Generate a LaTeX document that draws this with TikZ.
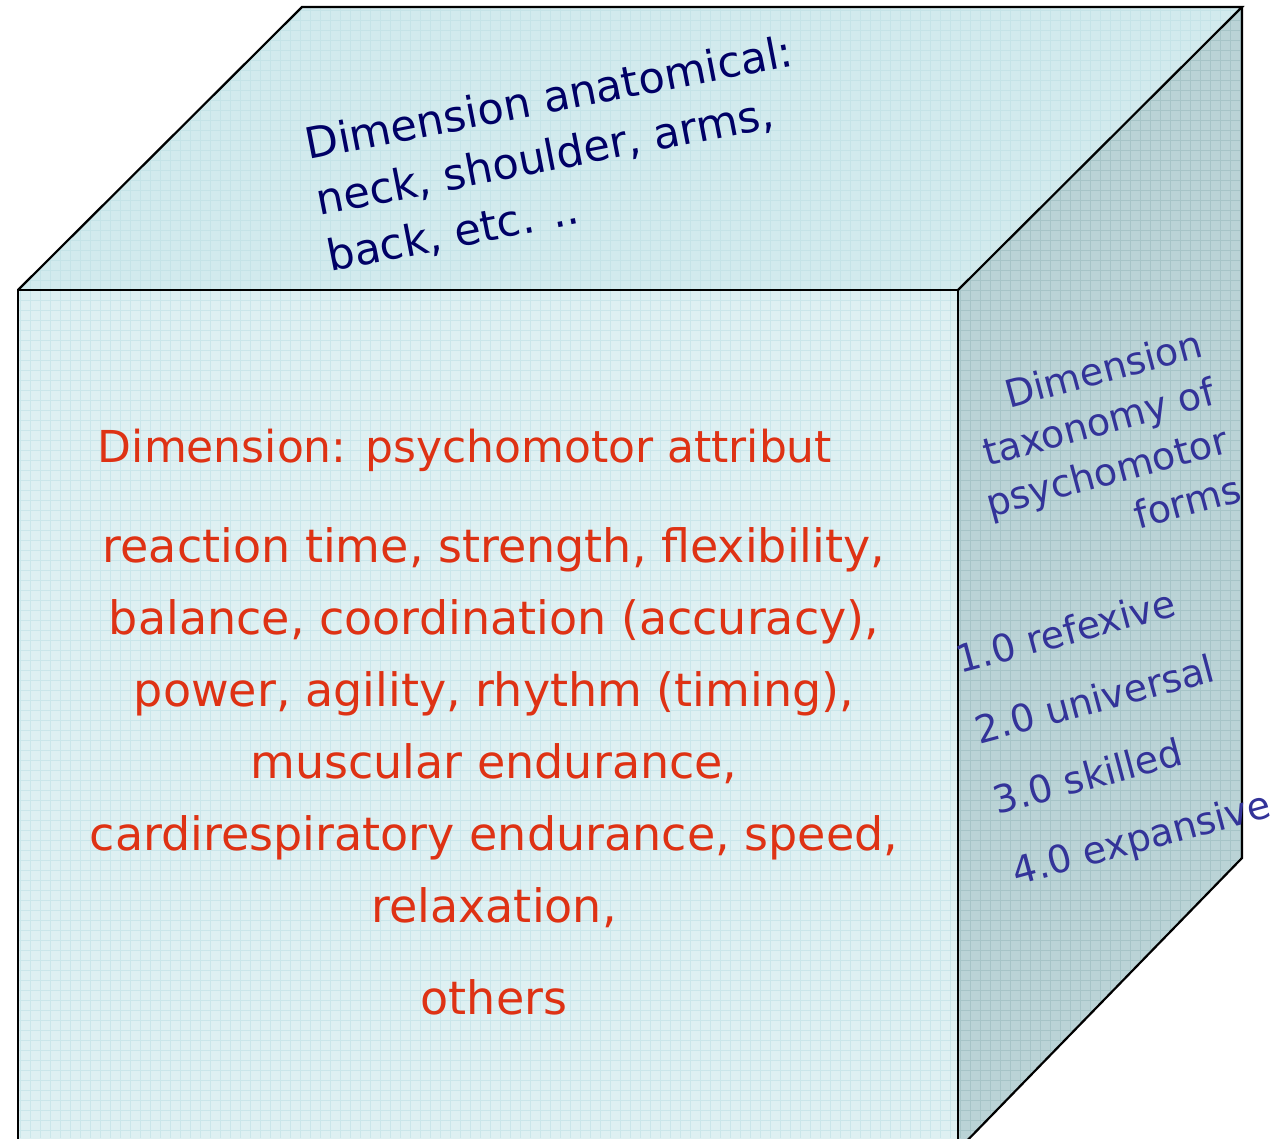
\documentclass[tikz,border=0pt]{standalone}
\usepackage{fontspec}
\setmainfont{DejaVu Sans}
\definecolor{frontfill}{RGB}{222,240,242}
\definecolor{frontgrid}{RGB}{202,230,234}
\definecolor{topfill}{RGB}{210,234,237}
\definecolor{topgrid}{RGB}{197,227,231}
\definecolor{sidefill}{RGB}{186,211,214}
\definecolor{sidegrid}{RGB}{166,196,199}
\definecolor{attrred}{RGB}{222,50,20}
\definecolor{anatblue}{RGB}{0,0,102}
\definecolor{taxblue}{RGB}{51,51,153}
\begin{document}
\begin{tikzpicture}[x=1pt,y=-1pt,
    edge/.style={draw=black, line width=2.2pt, line join=miter},
    gridline/.style={line width=0.7pt, step=10pt},
    bigtext/.style={font=\fontsize{46}{72}\selectfont, inner sep=0pt}]
\useasboundingbox (0,0) rectangle (1277,1138);
\clip (0,0) rectangle (1277,1138);
    % Cube corners
    \coordinate (f1) at (18,290);
    \coordinate (f2) at (958,290);
    \coordinate (f3) at (958,1150);
    \coordinate (f4) at (18,1150);
    \coordinate (b1) at (302,7);
    \coordinate (b2) at (1242,7);
    \coordinate (b3) at (1242,858);

    % Top face
    \fill[topfill] (f1) -- (b1) -- (b2) -- (f2) -- cycle;
    \begin{scope}
        \clip (f1) -- (b1) -- (b2) -- (f2) -- cycle;
        \draw[gridline, topgrid] (0,0) grid (1277,1138);
    \end{scope}
    % Front face
    \fill[frontfill] (f1) -- (f2) -- (f3) -- (f4) -- cycle;
    \begin{scope}
        \clip (f1) -- (f2) -- (f3) -- (f4) -- cycle;
        \draw[gridline, frontgrid] (0,0) grid (1277,1138);
    \end{scope}
    % Side face
    \fill[sidefill] (f2) -- (b2) -- (b3) -- (f3) -- cycle;
    \begin{scope}
        \clip (f2) -- (b2) -- (b3) -- (f3) -- cycle;
        \draw[gridline, sidegrid] (0,0) grid (1277,1138);
    \end{scope}

    % Edges
    \draw[edge] (f4) -- (f1) -- (f2) -- (f3);
    \draw[edge] (f1) -- (b1) -- (b2) -- (f2);
    \draw[edge] (b2) -- (b3) -- (f3);

    % Top face text
    \node[bigtext, anatblue, rotate=11, align=left,
          font=\fontsize{43}{57}\selectfont] (anat) at (560,155)
        {Dimension anatomical:\\neck, shoulder, arms,\\back, etc. ..};

    % Front face text
    \node[bigtext, attrred, font=\fontsize{44}{72}\selectfont] (attr) at (465,450)
        {Dimension: psychomotor attribut};
    \node[bigtext, attrred, align=center] (attrlist) at (494,728)
        {reaction time, strength, flexibility,\\
         balance, coordination (accuracy),\\
         power, agility, rhythm (timing),\\
         muscular endurance,\\
         cardirespiratory endurance, speed,\\
         relaxation,};
    \node[bigtext, attrred] (others) at (494,997) {others};

    % Side face text
    \node[bigtext, taxblue, rotate=15, align=right,
          font=\fontsize{38}{50}\selectfont] (tax) at (1100,447)
        {Dimension\\taxonomy of\\psychomotor\\forms};
    \node[bigtext, taxblue, rotate=15, align=left,
          font=\fontsize{38}{73}\selectfont] (forms) at (1114,735)
        {1.0 refexive\\2.0 universal\\3.0 skilled\\4.0 expansive};
\end{tikzpicture}
\end{document}
